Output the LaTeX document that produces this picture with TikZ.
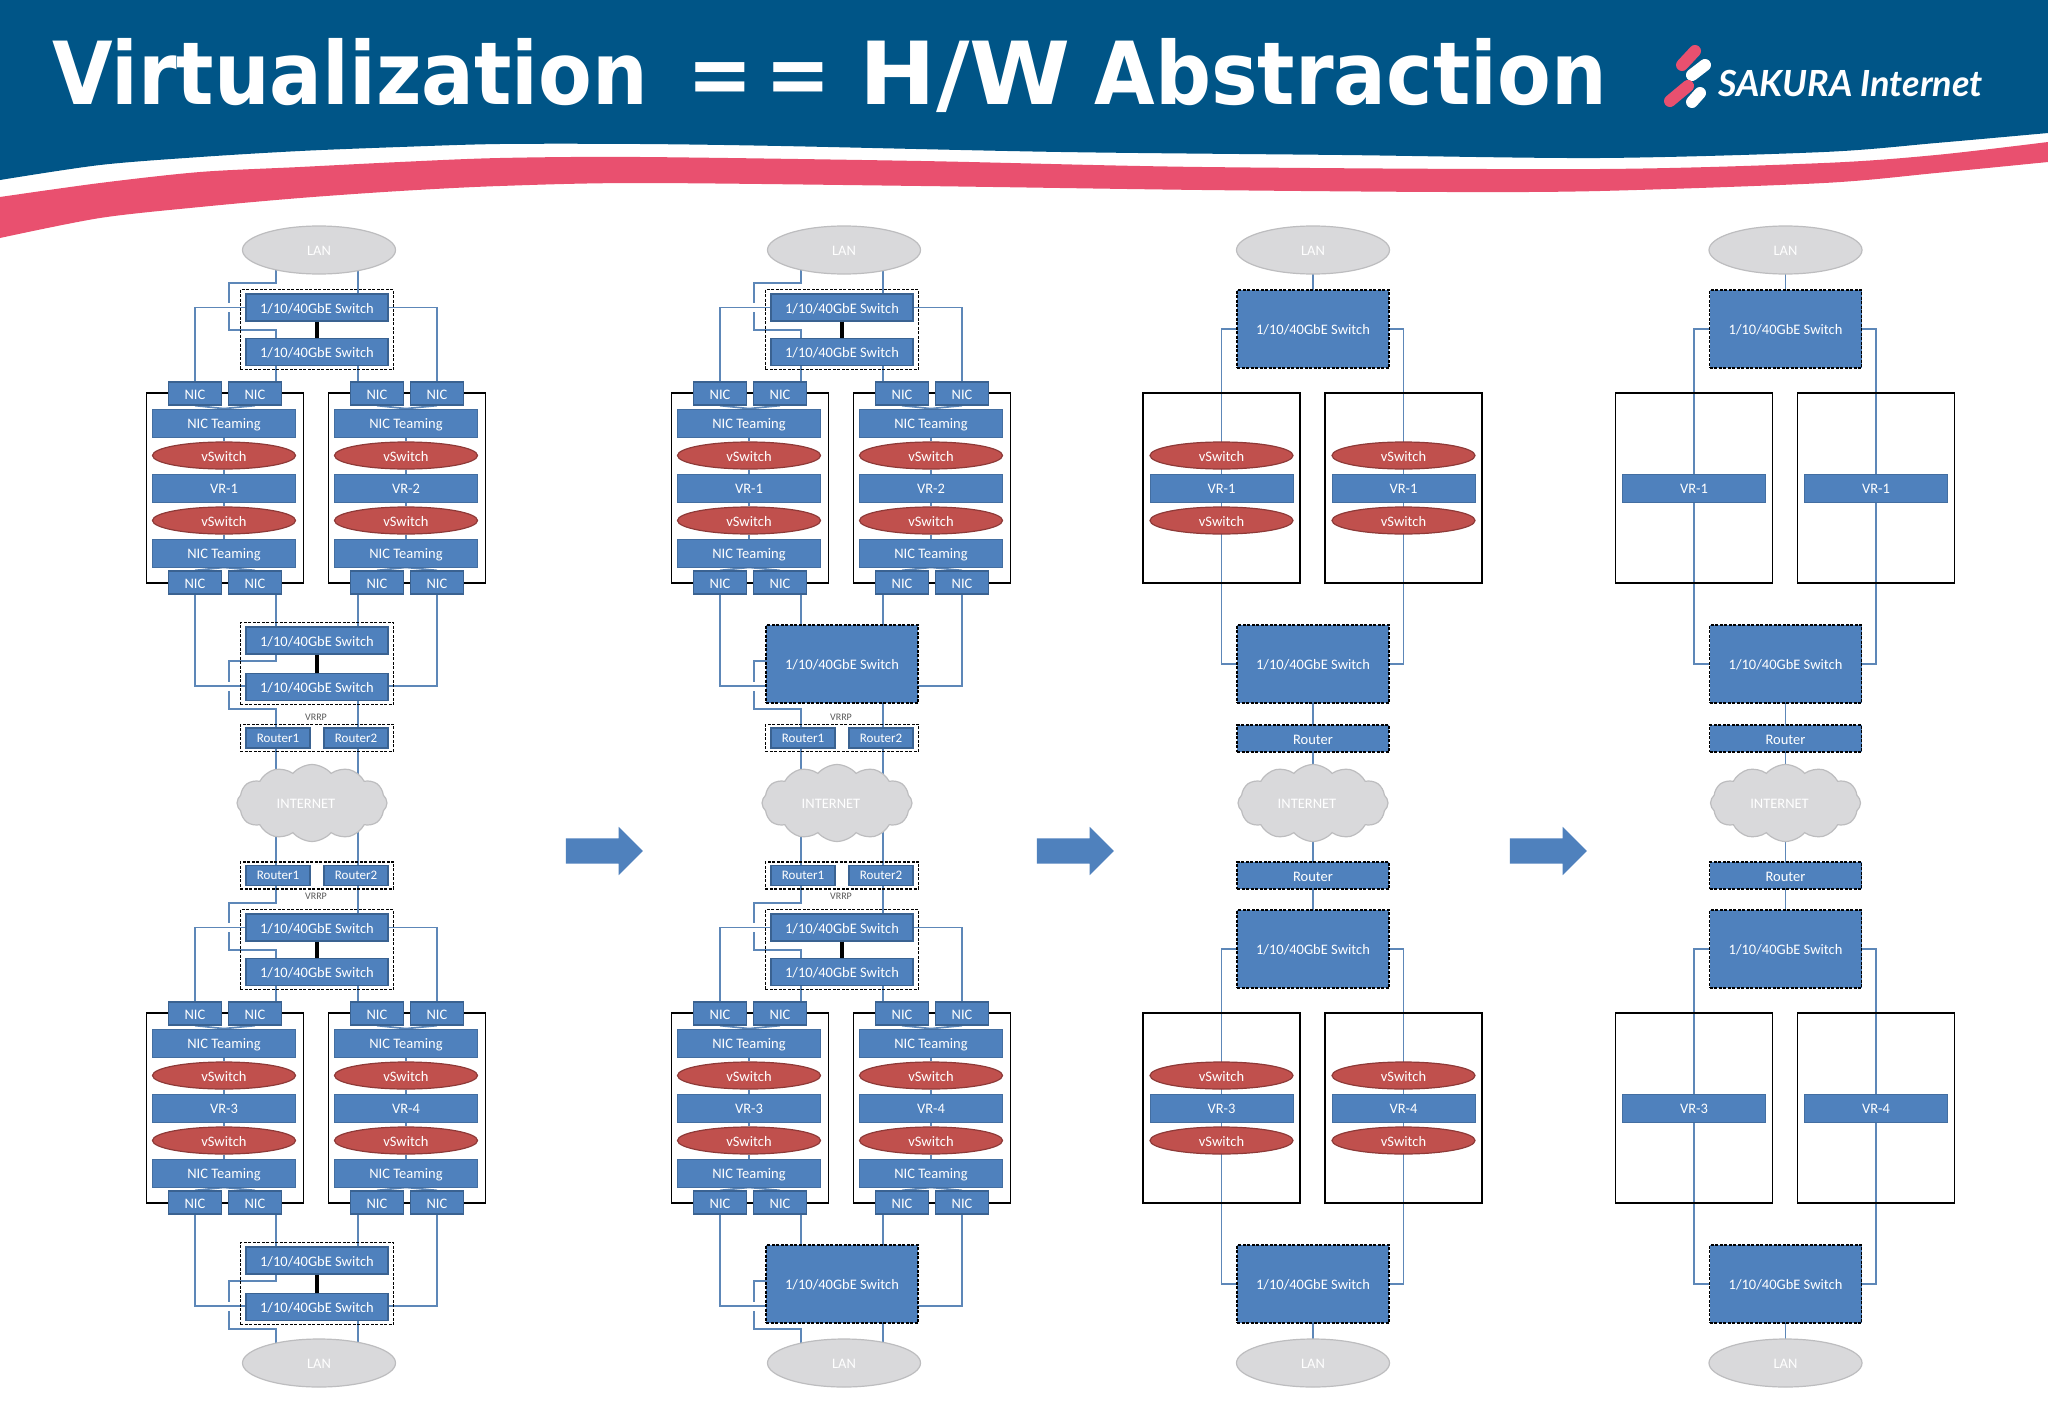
\documentclass[tikz,border=0pt]{standalone}
\usepackage{fontspec}
\setmainfont{Carlito}
\newfontfamily\titlefont{DejaVu Sans Condensed}
\newfontfamily\logofont{Lato}
\usepackage{xcolor}
\usetikzlibrary{positioning,fit,backgrounds,shapes.geometric,shapes.symbols,shapes.arrows}

\definecolor{hdrblue}{HTML}{005587}
\definecolor{hdrpink}{HTML}{E9506F}
\definecolor{boxblue}{HTML}{4F81BD}
\definecolor{boxedge}{HTML}{3A6291}
\definecolor{wireblue}{HTML}{5D87B8}
\definecolor{vswred}{HTML}{C0504D}
\definecolor{vswedge}{HTML}{8E3A38}
\definecolor{lanfill}{HTML}{D9D9DB}
\definecolor{lanedge}{HTML}{BDBDBF}

\newcommand{\swpair}[3]{
  \node[swbox] (#1a) at (317,#2) {1/10/40GbE Switch};
  \node[swbox, below=#3 of #1a] (#1b) {1/10/40GbE Switch};
  \node[dashframe, fit=(#1a)(#1b)] (#1f) {};
  \draw[trunk] (#1a) -- (#1b);
}
\newcommand{\rtpair}[2]{
  \node[rtbox] (#1a) at (278,#2) {Router1};
  \node[rtbox] (#1b) at (356,#2) {Router2};
  \node[dashframe, inner ysep=3pt, fit=(#1a)(#1b)] (#1f) {};
}
\newcommand{\hostfull}[3]{
  \node[hostbox] (#1box) at (#2,488) {};
  \node[nicbox] (#1na) at (#2-30,393.5) {NIC};
  \node[nicbox] (#1nb) at (#2+30,393.5) {NIC};
  \node[widebox] (#1ta) at (#2-1,423) {NIC Teaming};
  \node[vswell, below=4pt of #1ta] (#1va) {vSwitch};
  \node[widebox, below=4pt of #1va] (#1vr) {#3};
  \node[vswell, below=4pt of #1vr] (#1vb) {vSwitch};
  \node[widebox, below=4pt of #1vb] (#1tb) {NIC Teaming};
  \node[nicbox] (#1nc) at (#2-30,582.5) {NIC};
  \node[nicbox] (#1nd) at (#2+30,582.5) {NIC};
  \begin{scope}[on background layer]
    \draw[wire] (#1na.south) -- (#1ta.north) -- (#1nb.south);
    \draw[wire] (#1ta) -- (#1va) -- (#1vr) -- (#1vb) -- (#1tb);
    \draw[wire] (#1nc.north) -- (#1tb.south) -- (#1nd.north);
  \end{scope}
}
\newcommand{\hostvsw}[3]{
  \node[hostbox] (#1box) at (#2,488) {};
  \node[widebox] (#1vr) at (#2,488) {#3};
  \node[vswell, above=4pt of #1vr] (#1va) {vSwitch};
  \node[vswell, below=4pt of #1vr] (#1vb) {vSwitch};
}
\newcommand{\hostvr}[3]{
  \node[hostbox] (#1box) at (#2,488) {};
  \node[widebox] (#1vr) at (#2,488) {#3};
}
\newcommand{\wirefull}[5]{
  \coordinate (#1ja) at (229,283);
  \coordinate (#1jb) at (229,330);
  \coordinate (#1jc) at (229,661);
  \coordinate (#1jd) at (229,709);
  \coordinate (#1je) at (317,307.5);
  \coordinate (#1jf) at (317,686);
  \begin{scope}[on background layer]
    \draw[wire] (pa |- #2.center) |- (#1ja) -- (#1jb) -| (pa |- #1upb.center);
    \draw[wire] (pb |- #2.center) -- (pb |- #1upa.center);
    \draw[wire, halo] (#1lna.center) |- (#1je);
    \draw[wire] (#1rnb.center) |- (#1je);
    \draw[wire] (pa |- #1upb.center) -- (pa |- #1lnb.center);
    \draw[wire] (pb |- #1upb.center) -- (pb |- #1rna.center);
    \draw[wire] (pa |- #1lnd.center) -- (pa |- #4.center);
    \draw[wire] (pb |- #1rnc.center) -- (pb |- #4.center);
    \draw[wire] (pa |- #4.center) |- (#1jc) -- (#1jd) -| (pa |- #3.center);
    \draw[wire] (pb |- #5.center) -- (pb |- #3.center);
    \draw[wire, halo] (#1lnc.center) |- (#1jf);
    \draw[wire] (#1rnd.center) |- (#1jf);
  \end{scope}
}
\newcommand{\wiresimple}[3]{
  \begin{scope}[on background layer]
    \draw[wire] (#2.center) -- (#1up.center);
    \draw[wire] (#1up.center) -| (#1lbox.center) |- (#1dn.center);
    \draw[wire] (#1up.center) -| (#1rbox.center) |- (#1dn.center);
    \draw[wire] (#1dn.center) -- (#3.center);
  \end{scope}
}
\newcommand{\midfull}{
  \coordinate (pa) at (276,0);
  \coordinate (pb) at (358,0);
  \node[lanell] (lant) at (319,250) {LAN};
  \node[lanell] (lanb) at (319,1363) {LAN};
  \rtpair{rtu}{738}
  \node[netcloud] (net) at (312,803) {INTERNET\kern12pt};
  \rtpair{rtl}{875.5}
  \node[vrrplabel] (vrrpu) at (316,717) {VRRP};
  \node[vrrplabel] (vrrpl) at (316,896) {VRRP};
  \begin{scope}[on background layer]
    \draw[wire] (pa |- rtua.center) -- (pa |- net.center);
    \draw[wire] (pb |- rtub.center) -- (pb |- net.center);
    \draw[wire] (pa |- net.center) -- (pa |- rtla.center);
    \draw[wire] (pb |- net.center) -- (pb |- rtlb.center);
  \end{scope}
}
\newcommand{\midsimple}{
  \node[lanell] (lant) at (317,250) {LAN};
  \node[lanell] (lanb) at (317,1363) {LAN};
  \node[bigrouter] (rtu) at (317,738.5) {Router};
  \node[netcloud] (net) at (317,803) {INTERNET\kern12pt};
  \node[bigrouter] (rtl) at (317,875.5) {Router};
  \begin{scope}[on background layer]
    \draw[wire] (rtu.center) -- (net.center);
    \draw[wire] (net.center) -- (rtl.center);
  \end{scope}
}

\begin{document}
\begin{tikzpicture}[
  x=1pt, y=-1pt,
  every node/.style={font=\fontsize{14.5}{17}\selectfont, text=white, inner sep=0pt},
  labelbox/.style={text height=14.3pt, text depth=3pt},
  swbox/.style={labelbox, draw=boxedge, fill=boxblue, line width=1.2pt, minimum width=142pt, minimum height=27pt},
  bigswitch/.style={labelbox, draw=black, dash pattern=on 3pt off 1.5pt, fill=boxblue, line width=1.1pt, minimum width=152pt, minimum height=78pt},
  bigrouter/.style={bigswitch, minimum height=27pt},
  rtbox/.style={draw=boxedge, fill=boxblue, line width=1.2pt, minimum width=64pt, minimum height=20pt, font=\fontsize{13}{15}\selectfont},
  nicbox/.style={labelbox, draw=boxedge, fill=boxblue, line width=1.2pt, minimum width=53pt, minimum height=23pt},
  widebox/.style={labelbox, fill=boxblue, draw=boxblue!85!black, line width=.8pt, minimum width=143pt, minimum height=28pt},
  vswell/.style={labelbox, ellipse, draw=vswedge, fill=vswred, line width=1.2pt, minimum width=143pt, minimum height=27pt},
  lanell/.style={labelbox, ellipse, draw=lanedge, fill=lanfill, line width=1.2pt, minimum width=153pt, minimum height=48pt},
  netcloud/.style={labelbox, cloud, cloud puffs=12, cloud puff arc=100, aspect=1.95, draw=lanedge, fill=lanfill, line width=1.2pt, minimum width=150pt, minimum height=77pt},
  hostbox/.style={draw=black, line width=1.6pt, minimum width=157pt, minimum height=190pt},
  dashframe/.style={draw=black, dash pattern=on 3pt off 1.5pt, line width=1.3pt, inner xsep=5pt, inner ysep=4pt},
  vrrplabel/.style={text=black!65, font=\fontsize{10}{12}\selectfont},
  blockarrow/.style={single arrow, fill=boxblue, inner ysep=12.5pt, minimum height=77pt, minimum width=48pt, single arrow head extend=11.5pt, single arrow head indent=0pt},
  wire/.style={draw=wireblue, line width=1.7pt},
  halo/.style={preaction={draw=white, line width=9pt}},
  trunk/.style={draw=black, line width=4pt},
]
\useasboundingbox (0,0) rectangle (2048,1418);
\begin{scope}[on background layer]
  \fill[white] (0,0) rectangle (2048,1418);
\end{scope}

\fill[hdrblue] (0,0) -- (2048,0) -- plot[smooth] coordinates {(2048,133) (1936,143) (1824,152) (1600,158) (1342,155) (1061,152) (781,146) (640,144) (500,144) (400,147) (300,151) (200,157) (100,165) (0,180)} -- cycle;
\fill[hdrpink] plot[smooth] coordinates {(0,197) (100,183) (200,172) (300,167) (400,162) (500,158) (640,157) (921,161) (1202,167) (1600,169) (1824,163) (1936,155) (2048,142)} -- plot[smooth] coordinates {(2048,162) (1936,173) (1824,183) (1600,191) (1447,192) (1202,190) (921,186) (640,183) (500,186) (400,191) (300,198) (200,207) (100,218) (0,238)} -- cycle;

\node[anchor=base west, font=\titlefont\bfseries\fontsize{87}{90}\selectfont] (title) at (52,105) {Virtualization\hspace{39pt}=\kern13pt=\hspace{28pt}\scalebox{1.17}[1]{H/W}\hspace{24pt}Abstraction};
\draw[hdrpink, line width=12pt, line cap=round] (1682,65) -- (1695,51);
\draw[white, line width=12pt, line cap=round] (1692,75) -- (1705,65);
\draw[hdrpink, line width=12pt, line cap=round] (1670,101) -- (1688,86);
\draw[white, line width=12pt, line cap=round] (1692,102) -- (1700,93);
\node[anchor=base west, font=\logofont\itshape\bfseries\fontsize{36}{42}\selectfont] (logo) at (1718,97) {SAKURA Internet};

\begin{scope}[name prefix=a-]
  \midfull
  \swpair{uup}{307.5}{16pt}
  \hostfull{ul}{225}{VR-1}
  \hostfull{ur}{407}{VR-2}
  \swpair{udn}{640.5}{18pt}
  \wirefull{u}{lant}{rtua}{udna}{udnb}
  \begin{scope}[yshift=-620pt]
    \swpair{lup}{307.5}{16pt}
    \hostfull{ll}{225}{VR-3}
    \hostfull{lr}{407}{VR-4}
    \swpair{ldn}{640.5}{18pt}
    \wirefull{l}{rtla}{lanb}{ldna}{ldnb}
  \end{scope}
\end{scope}

\begin{scope}[shift={(525,0)}, name prefix=b-]
  \midfull
  \swpair{uup}{307.5}{16pt}
  \hostfull{ul}{225}{VR-1}
  \hostfull{ur}{407}{VR-2}
  \node[bigswitch] (udn) at (317,664) {1/10/40GbE Switch};
  \wirefull{u}{lant}{rtua}{udn}{udn}
  \begin{scope}[yshift=-620pt]
    \swpair{lup}{307.5}{16pt}
    \hostfull{ll}{225}{VR-3}
    \hostfull{lr}{407}{VR-4}
    \node[bigswitch] (ldn) at (317,664) {1/10/40GbE Switch};
    \wirefull{l}{rtla}{lanb}{ldn}{ldn}
  \end{scope}
\end{scope}

\begin{scope}[shift={(996,0)}, name prefix=c-]
  \midsimple
  \node[bigswitch] (uup) at (317,329) {1/10/40GbE Switch};
  \hostvsw{ul}{225.5}{VR-1}
  \hostvsw{ur}{407.5}{VR-1}
  \node[bigswitch] (udn) at (317,664) {1/10/40GbE Switch};
  \wiresimple{u}{lant}{rtu}
  \begin{scope}[yshift=-620pt]
    \node[bigswitch] (lup) at (317,329) {1/10/40GbE Switch};
    \hostvsw{ll}{225.5}{VR-3}
    \hostvsw{lr}{407.5}{VR-4}
    \node[bigswitch] (ldn) at (317,664) {1/10/40GbE Switch};
    \wiresimple{l}{rtl}{lanb}
  \end{scope}
\end{scope}

\begin{scope}[shift={(1468.5,0)}, name prefix=d-]
  \midsimple
  \node[bigswitch] (uup) at (317,329) {1/10/40GbE Switch};
  \hostvr{ul}{225.5}{VR-1}
  \hostvr{ur}{407.5}{VR-1}
  \node[bigswitch] (udn) at (317,664) {1/10/40GbE Switch};
  \wiresimple{u}{lant}{rtu}
  \begin{scope}[yshift=-620pt]
    \node[bigswitch] (lup) at (317,329) {1/10/40GbE Switch};
    \hostvr{ll}{225.5}{VR-3}
    \hostvr{lr}{407.5}{VR-4}
    \node[bigswitch] (ldn) at (317,664) {1/10/40GbE Switch};
    \wiresimple{l}{rtl}{lanb}
  \end{scope}
\end{scope}

\node[blockarrow] (arrowa) at (598,851) {};
\node[blockarrow] (arrowb) at (1069,851) {};
\node[blockarrow] (arrowc) at (1542,851) {};
\end{tikzpicture}
\end{document}
